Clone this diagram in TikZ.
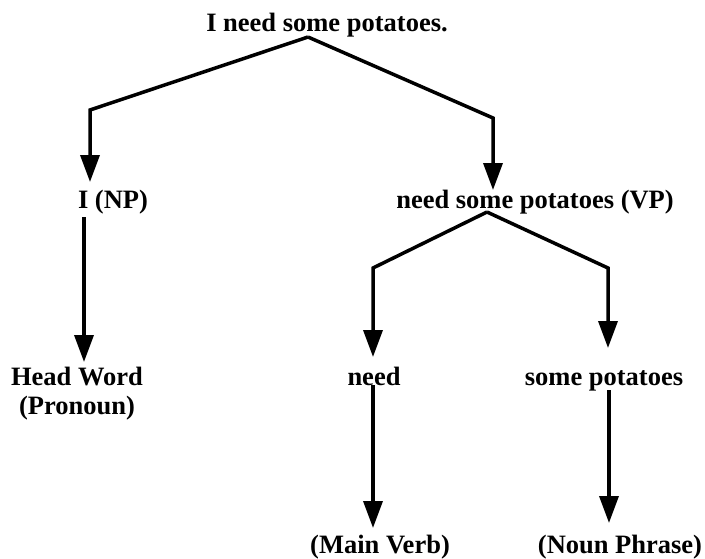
\documentclass[tikz,border=0pt]{standalone}
\usepackage{fontspec}
\setmainfont{Liberation Serif}
\usetikzlibrary{arrows.meta}
\begin{document}
\begin{tikzpicture}[x=1pt,y=-1pt,
  lbl/.style={font=\fontsize{26.5}{30}\selectfont\bfseries, inner sep=0pt, anchor=base},
  conn/.style={line width=3.5pt, line join=miter},
  arr/.style={conn, -{Triangle[width=19pt,length=27pt]}}]
\useasboundingbox (0,0) rectangle (705,558);
% nodes
\node[lbl] (root) at (327,31) {I need some potatoes.};
\node[lbl] (np) at (113,208) {I (NP)};
\node[lbl] (vp) at (535,208) {need some potatoes (VP)};
\node[lbl] (hw) at (77,385) {Head Word};
\node[lbl] (pr) at (77,414) {(Pronoun)};
\node[lbl] (nd) at (374,385) {need};
\node[lbl] (sp) at (604,385) {some potatoes};
\node[lbl] (mv) at (380,553) {(Main Verb)};
\node[lbl] (nph) at (620,553) {(Noun Phrase)};
% connector points
\coordinate (rp) at (308,37);
\coordinate (rl) at (90,110);
\coordinate (rlt) at (90,182);
\coordinate (rr) at (493,118);
\coordinate (rrt) at (493,190);
\coordinate (nps) at (84,217);
\coordinate (npt) at (84,362);
\coordinate (vpp) at (487,212);
\coordinate (vl) at (373,268);
\coordinate (vlt) at (373,357);
\coordinate (vr) at (608,268);
\coordinate (vrt) at (608,348);
\coordinate (nds) at (373,385);
\coordinate (ndt) at (373,528);
\coordinate (sps) at (609,390);
\coordinate (spt) at (609,523);
% connectors
\draw[arr] (rp) -- (rl) -- (rlt);
\draw[arr] (rp) -- (rr) -- (rrt);
\draw[arr] (nps) -- (npt);
\draw[arr] (vpp) -- (vl) -- (vlt);
\draw[arr] (vpp) -- (vr) -- (vrt);
\draw[arr] (nds) -- (ndt);
\draw[arr] (sps) -- (spt);
\end{tikzpicture}
\end{document}
